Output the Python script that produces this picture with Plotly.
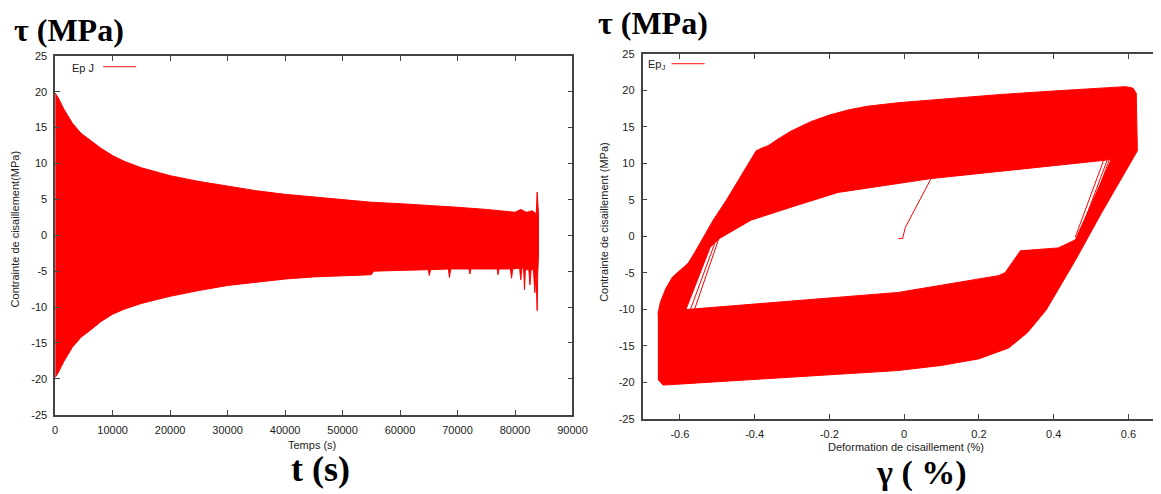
import plotly.graph_objects as go

# Calibration of the capture: page body margin of 8 px, the photographed page appears
# scaled by about 0.984 and shifted by a few pixels; positions below are in target pixels.
S = 0.984
OFF = 8
SHIFT = 4
W = int(round(1161 / S)) - OFF
H = int(round(494 / S)) - OFF


def X(px):
    return ((px - SHIFT) / S - OFF) / W


def Y(py):
    return 1 - ((py - SHIFT) / S - OFF) / H


# ---------------- Left chart: stress vs time (envelope of the oscillation) ----------------
t_upper = [0, 500, 1500, 3000, 4500, 6000, 8000, 10000, 12000, 15000, 20000, 25000, 30000,
           35000, 40000, 45000, 50000, 55000, 60000, 65000, 70000, 75000, 78000, 80000,
           81000, 82000, 83000, 83700, 83850, 83950, 84080]
tau_upper = [19.8, 19.2, 17.6, 15.6, 14.2, 13.3, 12.1, 11.1, 10.3, 9.4, 8.3, 7.5, 6.8,
             6.2, 5.7, 5.3, 4.9, 4.6, 4.4, 4.2, 3.9, 3.6, 3.3, 3.2,
             3.6, 3.2, 3.4, 3.0, 6.0, 3.1, 3.0]
t_lower = [0, 500, 1500, 3000, 4500, 6000, 8000, 10000, 12000, 15000,
           20000, 25000, 30000, 35000, 40000, 45000, 50000, 55000, 55400, 60000,
           64900, 65100, 65300, 68400, 68600, 68800, 72000, 72150, 72300, 76900,
           77050, 77200, 79200, 79400, 79600, 80800, 81000, 81200, 81500, 81650,
           81800, 82400, 82600, 82800, 83200, 83450, 83650, 83850, 83950, 84080]
tau_lower = [-19.8, -19.2, -17.6, -15.6, -14.2, -13.3, -12.0, -11.0, -10.3, -9.5,
             -8.5, -7.7, -7.0, -6.5, -6.1, -5.8, -5.6, -5.5, -5.0, -4.9,
             -4.8, -5.6, -4.8, -4.7, -5.9, -4.7, -4.7, -5.4, -4.7, -4.7,
             -5.5, -4.7, -4.7, -6.0, -4.7, -4.6, -6.2, -4.6, -4.6, -7.6,
             -4.8, -4.8, -6.9, -4.8, -4.8, -8.0, -5.2, -10.5, -5.5, -3.0]

x_ticks_left = [0, 10000, 20000, 30000, 40000, 50000, 60000, 70000, 80000, 90000]
x_labels_left = ["0", "10000", "20000", "30000", "40000", "50000", "60000", "70000",
                 "80000", "90000"]
y_ticks = [-25, -20, -15, -10, -5, 0, 5, 10, 15, 20, 25]
y_labels = ["-25", "-20", "-15", "-10", "-5", "0", "5", "10", "15", "20", "25"]

# ---------------- Right chart: stress vs shear strain (hysteresis band) ----------------
gamma_outer = [-0.659, -0.652, -0.638, -0.620, -0.598, -0.578, -0.560, -0.546, -0.511,
               -0.475, -0.444, -0.415, -0.396, -0.380, -0.364, -0.335, -0.303, -0.250,
               -0.200, -0.150, -0.100, -0.016, 0.100, 0.252, 0.400, 0.592, 0.612, 0.621,
               0.624, 0.608, 0.527, 0.458, 0.380, 0.330, 0.280, 0.200, 0.100, -0.016,
               -0.284, -0.552, -0.645, -0.659]
tau_outer = [-10.7, -9.0, -7.2, -5.6, -4.6, -3.7, -2.2, -0.95, 2.2,
             5.0, 7.6, 10.2, 11.7, 12.1, 12.4, 13.4, 14.4, 15.7,
             16.6, 17.3, 17.8, 18.3, 18.8, 19.4, 19.9, 20.5, 20.3, 19.6,
             11.7, 10.3, 3.1, -3.3, -10.1, -13.2, -15.3, -16.8, -17.7, -18.4,
             -19.3, -20.1, -20.4, -19.6]
gamma_hole = [-0.584, -0.519, -0.493, -0.410, -0.289, -0.177, 0.072, 0.554, 0.458, 0.412,
              0.311, 0.270, 0.252, -0.016, -0.584]
tau_hole = [-10.05, -1.5, -0.27, 2.2, 4.2, 6.0, 7.9, 10.5, -0.5, -1.6,
            -2.0, -5.0, -5.4, -7.7, -10.05]
gamma_load = [-0.015, -0.004, -0.004, 0.003, 0.072]
tau_load = [-0.3, -0.3, -0.3, 1.2, 7.9]
gamma_thin = [-0.572, -0.507, None, -0.561, -0.497, None,
              0.458, 0.533, None, 0.466, 0.543, None, 0.473, 0.549]
tau_thin = [-10.05, -1.0, None, -10.05, -0.5, None,
            -0.1, 10.3, None, -0.2, 10.4, None, -0.3, 10.5]

x_ticks_right = [-0.6, -0.4, -0.2, 0, 0.2, 0.4, 0.6]
x_labels_right = ["-0.6", "-0.4", "-0.2", "0", "0.2", "0.4", "0.6"]

RED = "#ff0000"
AXC = "#444444"
TXT = "#222222"
SANS = "Liberation Sans, Arial, sans-serif"
SERIF = "Liberation Serif, Times New Roman, serif"

fig = go.Figure()

# left band
fig.add_trace(go.Scatter(
    x=t_upper + t_lower[::-1], y=tau_upper + tau_lower[::-1],
    mode="lines", fill="toself", fillcolor=RED,
    line=dict(color=RED, width=1), xaxis="x", yaxis="y",
    showlegend=False, hoverinfo="skip"))

# right band
fig.add_trace(go.Scatter(
    x=gamma_outer, y=tau_outer, mode="lines", fill="toself", fillcolor=RED,
    line=dict(color=RED, width=1), xaxis="x2", yaxis="y2",
    showlegend=False, hoverinfo="skip"))
fig.add_trace(go.Scatter(
    x=gamma_hole, y=tau_hole, mode="lines", fill="toself", fillcolor="white",
    line=dict(color=RED, width=1), xaxis="x2", yaxis="y2",
    showlegend=False, hoverinfo="skip"))
fig.add_trace(go.Scatter(
    x=gamma_load, y=tau_load, mode="lines", line=dict(color=RED, width=1),
    xaxis="x2", yaxis="y2", showlegend=False, hoverinfo="skip"))
fig.add_trace(go.Scatter(
    x=gamma_thin, y=tau_thin, mode="lines", line=dict(color=RED, width=1),
    connectgaps=False, xaxis="x2", yaxis="y2", showlegend=False, hoverinfo="skip"))

axis_common = dict(
    showgrid=False, zeroline=False, showline=True, linecolor=AXC, linewidth=1.5,
    ticks="inside", ticklen=5, tickwidth=1, tickcolor=AXC, ticklabelstandoff=4,
    tickfont=dict(family=SANS, size=11, color=TXT),
)

# right end of the figure expressed in target pixels
r_end = S * (W + OFF) + SHIFT
x_right_max = -0.7 + (r_end - 643) / 373.5

fig.update_layout(
    width=W, height=H,
    margin=dict(l=0, r=0, t=0, b=0),
    paper_bgcolor="white", plot_bgcolor="white",
    showlegend=False,
    xaxis=dict(domain=[X(56), X(573)], range=[0, 90000], tickvals=x_ticks_left,
               ticktext=x_labels_left, mirror="ticks", anchor="y", **axis_common),
    yaxis=dict(domain=[Y(416), Y(54)], range=[-25, 25], tickvals=y_ticks,
               ticktext=y_labels, mirror="ticks", anchor="x", **axis_common),
    xaxis2=dict(domain=[X(643), 1.0], range=[-0.7, x_right_max],
                tickvals=x_ticks_right, ticktext=x_labels_right, mirror="ticks",
                anchor="y2", **axis_common),
    yaxis2=dict(domain=[Y(420), Y(52)], range=[-25, 25], tickvals=y_ticks,
                ticktext=y_labels, mirror=False, anchor="x2", **axis_common),
)

ann = []


def text(s, px, py, size, family=SANS, bold=False, angle=0, xanchor="center", color=TXT):
    ann.append(dict(text=("<b>%s</b>" % s) if bold else s, x=X(px), y=Y(py),
                    xref="paper", yref="paper", showarrow=False, xanchor=xanchor,
                    yanchor="middle", textangle=angle,
                    font=dict(family=family, size=size, color=color)))


# big headings
text("τ (MPa)", 13, 28, 32, SERIF, True, xanchor="left", color="black")
text("τ (MPa)", 596, 21, 32, SERIF, True, xanchor="left", color="black")
text("t (s)", 321, 471, 36, SERIF, True, color="black")
text("γ ( %)", 922, 475, 34, SERIF, True, color="black")

# axis titles
text("Temps (s)", 313, 447, 11)
text("Deformation de cisaillement (%)", 906, 449, 11)
text("Contrainte de cisaillement(MPa)", 16, 229, 11, angle=-90)
text("Contrainte de cisaillement (MPa)", 605, 222, 11, angle=-90)

# legends
text("Ep J", 71, 66, 11, xanchor="left")
text("Ep<sub>J</sub>", 646, 63, 11, xanchor="left")

fig.update_layout(annotations=ann)
fig.add_shape(type="line", xref="paper", yref="paper", x0=X(104), x1=X(137), y0=Y(65),
              y1=Y(65), line=dict(color="#ff4040", width=1.2))
fig.add_shape(type="line", xref="paper", yref="paper", x0=X(672), x1=X(705), y0=Y(62),
              y1=Y(62), line=dict(color="#ff4040", width=1.2))

fig.write_html("out.html")
